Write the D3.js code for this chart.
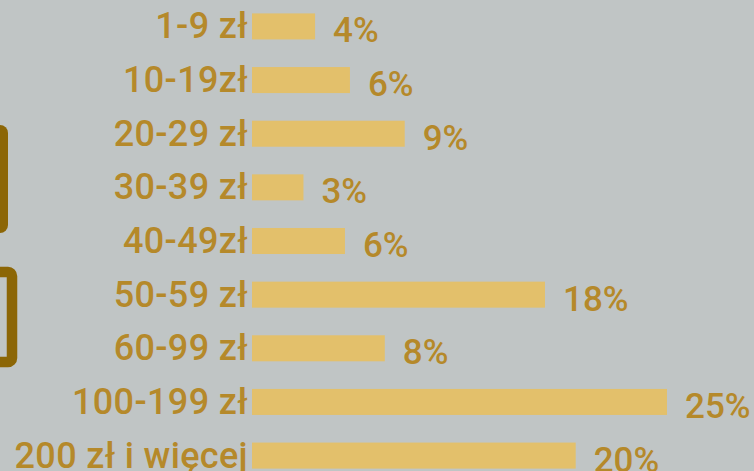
<!DOCTYPE html>
<html>
<head>
<meta charset="utf-8">
<script src="https://cdn.jsdelivr.net/npm/d3@7"></script>
<style>
  html, body { margin: 0; padding: 0; background: #c0c5c5; overflow: hidden; }
  text { font-family: Roboto, "Liberation Sans", sans-serif; font-weight: 500; }
</style>
</head>
<body>
<div id="chart"></div>
<script>
//////////////////// data ////////////////////
var categories = ["1-9 zł", "10-19zł", "20-29 zł", "30-39 zł", "40-49zł",
                  "50-59 zł", "60-99 zł", "100-199 zł", "200 zł i więcej"];
var shares = [3.8, 5.9, 9.2, 3.1, 5.6, 17.65, 8.0, 25.0, 19.5];

//////////////////// svg ////////////////////
var svgWidth = 754;
var svgHeight = 471;

var svg = d3.select("#chart").append("svg")
  .attr("width", svgWidth)
  .attr("height", svgHeight);

svg.append("rect")
  .attr("width", svgWidth).attr("height", svgHeight)
  .attr("fill", "#c0c5c5");

// decorative shapes cut off at the left edge
svg.append("rect")
  .attr("x", -30).attr("y", 125).attr("width", 38).attr("height", 108)
  .attr("rx", 8).attr("fill", "#8c6606");
svg.append("rect")
  .attr("x", -30).attr("y", 272).attr("width", 42).attr("height", 90)
  .attr("rx", 4).attr("fill", "none")
  .attr("stroke", "#8c6606").attr("stroke-width", 10.5);

//////////////////// scales ////////////////////
var x0 = 252;
var xScale = d3.scaleLinear()
  .domain([0, 25])
  .range([x0, 667]);

var yScale = d3.scaleBand()
  .domain(categories)
  .range([0, 482])
  .paddingInner(0.515)
  .paddingOuter(0.25);

//////////////////// bars ////////////////////
svg.selectAll("rect.bar")
  .data(shares)
  .enter()
  .append("rect")
  .attr("class", "bar")
  .attr("x", x0)
  .attr("y", (d, i) => yScale(categories[i]))
  .attr("width", d => xScale(d) - x0)
  .attr("height", yScale.bandwidth())
  .attr("fill", "#e3c06b");

// category labels
svg.selectAll("text.cat")
  .data(categories)
  .enter()
  .append("text")
  .attr("class", "cat")
  .attr("x", 248)
  .attr("y", d => yScale(d) + 25)
  .attr("text-anchor", "end")
  .attr("font-size", 36)
  .attr("letter-spacing", 0.35)
  .attr("fill", "#b5892a")
  .text(d => d);

// value labels
svg.selectAll("text.val")
  .data(shares)
  .enter()
  .append("text")
  .attr("class", "val")
  .attr("x", d => xScale(d) + 18)
  .attr("y", (d, i) => yScale(categories[i]) + 29)
  .attr("font-size", 35)
  .attr("fill", "#b5892a")
  .text(d => Math.round(d) + "%");
</script>
</body>
</html>
